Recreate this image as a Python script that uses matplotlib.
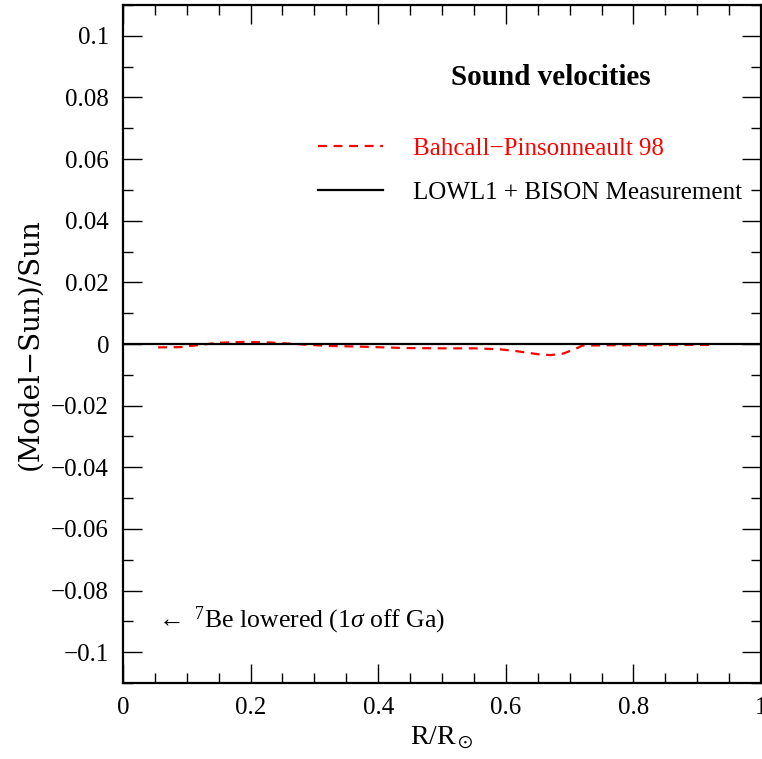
import numpy as np
import matplotlib
matplotlib.use("Agg")
import matplotlib.pyplot as plt
from matplotlib.ticker import MultipleLocator

# ── Daten ─────────────────────────────────────────────────────────────────────
r_bp98 = [0.055, 0.09, 0.12, 0.15, 0.19, 0.23, 0.27, 0.32, 0.38, 0.44, 0.50,
          0.55, 0.59, 0.62, 0.65, 0.67, 0.69, 0.71, 0.72, 0.76, 0.82, 0.88, 0.92]
dc_bp98 = [-0.0011, -0.0010, -0.0003, 0.0004, 0.0007, 0.0005, 0.0000, -0.0006,
           -0.0009, -0.0013, -0.0014, -0.0014, -0.0017, -0.0024, -0.0033, -0.0036,
           -0.0031, -0.0015, -0.0005, -0.0004, -0.0004, -0.0003, -0.0003]
r_meas = [0.0, 1.0]
dc_meas = [0.0, 0.0]

plt.rcParams["font.family"] = ["Liberation Serif", "DejaVu Serif"]
plt.rcParams["mathtext.fontset"] = "custom"
plt.rcParams["mathtext.rm"] = "Liberation Serif"
plt.rcParams["mathtext.it"] = "Liberation Serif:italic"

fig = plt.figure(figsize=(7.62, 7.59), dpi=100)
ax = fig.add_axes([0.1614, 0.1001, 0.8373, 0.8933])

ax.plot(r_bp98, dc_bp98, color="red", lw=1.6, ls=(0, (4, 3)),
        label="Bahcall\u2212Pinsonneault 98")
ax.plot(r_meas, dc_meas, color="black", lw=1.6,
        label="LOWL1 + BISON Measurement")

ax.set_xlim(0, 1)
ax.set_ylim(-0.11, 0.11)
ax.xaxis.set_major_locator(MultipleLocator(0.2))
ax.xaxis.set_minor_locator(MultipleLocator(0.05))
ax.yaxis.set_major_locator(MultipleLocator(0.02))
ax.yaxis.set_minor_locator(MultipleLocator(0.01))
ax.xaxis.set_major_formatter(lambda v, p: "0" if abs(v) < 1e-9 else ("1" if abs(v - 1) < 1e-9 else f"{v:.1f}"))
ax.yaxis.set_major_formatter(lambda v, p: "0" if abs(v) < 1e-9 else f"{v:g}".replace("-", "\u2212"))
ax.tick_params(which="both", direction="in", top=True, right=True,
               labelsize=18, width=1.0)
ax.tick_params(which="major", length=14, pad=10)
ax.tick_params(which="minor", length=7)
for s in ax.spines.values():
    s.set_linewidth(1.6)

ax.set_xlabel(r"$\mathregular{R/R_\odot}$", fontsize=20, labelpad=4)
ax.set_ylabel("(Model\u2212Sun)/Sun", fontsize=20, family="DejaVu Serif",
              labelpad=6)

ax.text(0.671, 0.0865, "Sound velocities", fontsize=21, fontweight="bold",
        ha="center", va="center")
ax.text(0.05, -0.0896, r"$\leftarrow$ $^7$Be lowered (1$\sigma$ off Ga)",
        fontsize=18.5, ha="left", va="center")

leg = ax.legend(loc="upper left", bbox_to_anchor=(0.27, 0.838), frameon=False,
                fontsize=18, handlelength=2.6, handletextpad=1.2,
                labelspacing=0.87, labelcolor=["red", "black"])

fig.savefig("out.png", dpi=100)
plt.close(fig)
